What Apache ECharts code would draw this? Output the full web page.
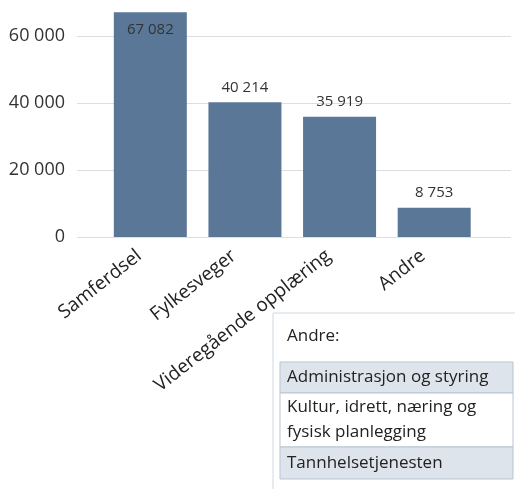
<!DOCTYPE html>
<html>
<head>
<meta charset="utf-8">
<script src="https://cdn.jsdelivr.net/npm/echarts@6/dist/echarts.min.js"></script>
<style>
  html, body { margin: 0; padding: 0; background: #fff; }
  #chart { width: 515px; height: 489px; }
</style>
</head>
<body>
<div id="chart"></div>
<script>
// data
var categories = ['Samferdsel', 'Fylkesveger', 'Videregående opplæring', 'Andre'];
var values = [67082, 40214, 35919, 8753];
var yTicks = [0, 20000, 40000, 60000];
var andreTitle = 'Andre:';
var andreItems = ['Administrasjon og styring', 'Kultur, idrett, næring og\nfysisk planlegging', 'Tannhelsetjenesten'];

var FONT = '"Open Sans", sans-serif';
var barColor = '#5a7797';
var gridColor = '#dadfe4';

function fmt(v) {
  return String(v).replace(/\B(?=(\d{3})+(?!\d))/g, ' ');
}

var yMax = 70000;
var yStep = yTicks[1] - yTicks[0];

// boks med "Andre:" forklaring
var rowH = [31, 54, 32];
var rowFill = ['#dde4eb', '#ffffff', '#dde4eb'];
var boxG = [
  { type: 'rect', shape: { x: 273, y: 313, width: 250, height: 190 },
    style: { fill: '#fff', stroke: '#cfd8e0', lineWidth: 1 } },
  { type: 'text', x: 287, y: 336,
    style: { text: andreTitle, font: '17px ' + FONT, fill: '#222', verticalAlign: 'middle' } }
];
var yy = 362;
andreItems.forEach(function (txt, i) {
  boxG.push({ type: 'rect', shape: { x: 280, y: yy, width: 233, height: rowH[i] },
    style: { fill: rowFill[i], stroke: '#b8c5d1', lineWidth: 1 } });
  boxG.push({ type: 'text', x: 287, y: yy + rowH[i] / 2,
    style: { text: txt, font: '17px ' + FONT, fill: '#222', verticalAlign: 'middle', lineHeight: 25 } });
  yy += rowH[i];
});

var chart = echarts.init(document.getElementById('chart'));
chart.setOption({
  animation: false,
  grid: [
    { left: 77, right: 4, top: 2.5, bottom: 252 },
    { left: 103, right: 33.5, top: 2.5, bottom: 252 }
  ],
  xAxis: [
    { gridIndex: 0, type: 'value', show: false, min: 0, max: 1 },
    { gridIndex: 1, type: 'category', data: categories,
      axisLine: { show: false }, axisTick: { show: false },
      axisLabel: { rotate: 38, margin: 8, padding: [0, 14, 0, 0], fontSize: 19, fontFamily: FONT,
        color: '#222', interval: 0 } }
  ],
  yAxis: [
    { gridIndex: 0, type: 'value', min: 0, max: yMax, interval: yStep,
      axisLine: { show: false }, axisTick: { show: false },
      splitLine: { showMaxLine: false, lineStyle: { color: gridColor, width: 1 } },
      axisLabel: { margin: 12, fontSize: 18, fontFamily: FONT, color: '#333', showMaxLabel: false,
        formatter: function (v) { return fmt(v); } } },
    { gridIndex: 1, type: 'value', min: 0, max: yMax, show: false, splitLine: { show: false } }
  ],
  series: [{
    type: 'bar',
    xAxisIndex: 1,
    yAxisIndex: 1,
    barWidth: 73,
    itemStyle: { color: barColor },
    label: { show: true, position: 'top', distance: 7, fontSize: 15, fontFamily: FONT, color: '#333',
      formatter: function (p) { return fmt(p.value); } },
    data: values.map(function (v, i) {
      return i === 0 ? { value: v, label: { position: 'insideTop', distance: 10 } } : v;
    })
  }],
  graphic: boxG
});
</script>
</body>
</html>
